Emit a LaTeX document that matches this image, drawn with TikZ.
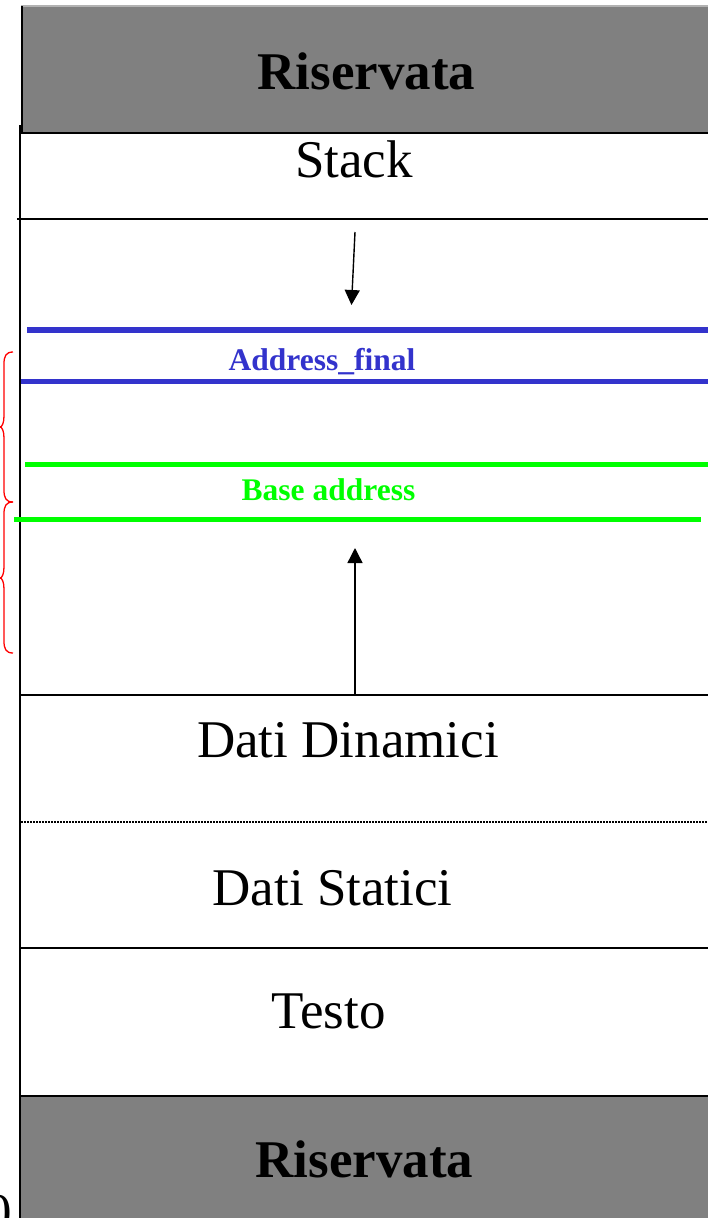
\documentclass[tikz,border=0pt]{standalone}
\usepackage{fontspec}
\setmainfont{Liberation Serif}
\usetikzlibrary{arrows.meta}
\definecolor{boxgray}{HTML}{808080}
\definecolor{addrblue}{HTML}{3333CC}
\definecolor{basegreen}{HTML}{00FF00}
\tikzset{
  bigtext/.style={inner sep=0pt, anchor=base, font=\fontsize{53}{60}\selectfont},
  bigbold/.style={bigtext, font=\fontsize{53}{60}\selectfont\bfseries},
  smalltext/.style={inner sep=0pt, anchor=base, font=\fontsize{31.5}{36}\selectfont\bfseries},
  sepline/.style={line width=2pt, black},
  markline/.style={line width=5.3pt},
  growarrow/.style={line width=1.4pt, -{Triangle[length=15pt,width=15pt]}},
  bracecurve/.style={red, line width=1.3pt},
}
\begin{document}
\begin{tikzpicture}[x=1pt,y=-1pt]
\useasboundingbox (0,0) rectangle (707,1218);

% reserved area at the top
\fill[boxgray] (21,6) rectangle (712,133);
\draw[gray!60, line width=1.2pt] (21,6) -- (712,6);
\draw[sepline] (21.5,6) -- (21.5,133) -- (712,133);

% reserved area at the bottom
\fill[boxgray] (21,1096) rectangle (712,1222);

% left border of the memory column
\draw[sepline] (20,125) -- (20,1222);

% section separators
\draw[sepline] (17,219) -- (712,219);
\draw[sepline] (20,695) -- (712,695);
\draw[sepline] (20,948) -- (712,948);
\draw[sepline] (20,1096) -- (712,1096);
\draw[black, line width=1.3pt, dash pattern=on 1.6pt off 1.4pt] (21,822) -- (712,822);

% address markers
\draw[markline, addrblue] (27,330) -- (712,330);
\draw[markline, addrblue] (21,381.5) -- (712,381.5);
\draw[markline, basegreen] (25,464.5) -- (712,464.5);
\draw[markline, basegreen] (14,519.5) -- (701,519.5);

% braces on the left
\draw[bracecurve] (13,352) .. controls (6,352) and (4,356) .. (4,364)
  -- (4,416) .. controls (4,423) and (2,427) .. (0,427)
  .. controls (2,427) and (4,431) .. (4,438)
  -- (4,490) .. controls (4,498) and (6,502) .. (13,502);
\draw[bracecurve] (13,502) .. controls (6,502) and (4,506) .. (4,514)
  -- (4,567) .. controls (4,574) and (2,578) .. (0,578)
  .. controls (2,578) and (4,582) .. (4,589)
  -- (4,641) .. controls (4,649) and (6,653) .. (13,653);

% labels
\node[bigbold] (resTop) at (366.5,89) {Riservata};
\node[bigtext] (stack) at (354,177) {Stack};
\node[smalltext, text=addrblue] (addrFinal) at (322,370) {Address\_final};
\node[smalltext, text=basegreen] (baseAddr) at (328.5,500.5) {Base address};
\node[bigtext] (dyn) at (348,757) {Dati Dinamici};
\node[bigtext] (stat) at (332.5,905) {Dati Statici};
\node[bigtext] (testo) at (328.5,1028) {Testo};
\node[bigbold] (resBot) at (364.5,1177) {Riservata};
\node[bigtext, anchor=base east] (zero) at (12,1230) {0};

% growth directions
\coordinate (stackFrom) at (355,232);
\coordinate (stackTo) at (351.5,305);
\coordinate (heapFrom) at (355,695);
\coordinate (heapTo) at (355,548);
\draw[growarrow] (stackFrom) -- (stackTo);
\draw[growarrow] (heapFrom) -- (heapTo);
\end{tikzpicture}
\end{document}
